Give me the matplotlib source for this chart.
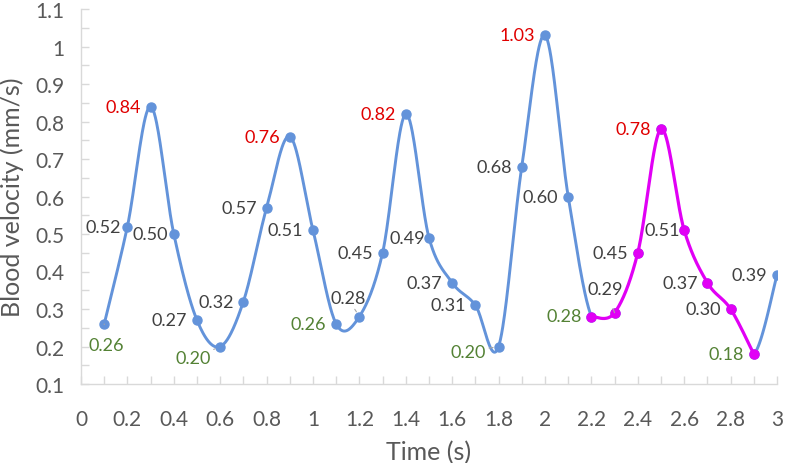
import matplotlib
matplotlib.use("Agg")
import matplotlib.pyplot as plt
import numpy as np

# data
time_s = [0.1, 0.2, 0.3, 0.4, 0.5, 0.6, 0.7, 0.8, 0.9, 1.0,
          1.1, 1.2, 1.3, 1.4, 1.5, 1.6, 1.7, 1.8, 1.9, 2.0,
          2.1, 2.2, 2.3, 2.4, 2.5, 2.6, 2.7, 2.8, 2.9, 3.0]
velocity = [0.26, 0.52, 0.84, 0.50, 0.27, 0.20, 0.32, 0.57, 0.76, 0.51,
            0.26, 0.28, 0.45, 0.82, 0.49, 0.37, 0.31, 0.20, 0.68, 1.03,
            0.60, 0.28, 0.29, 0.45, 0.78, 0.51, 0.37, 0.30, 0.18, 0.39]
# highlighted stretch (index range, inclusive)
hl_start, hl_end = 21, 28
peaks = [2, 8, 13, 19, 24]
troughs = [0, 5, 10, 17, 21, 28]

# label offsets in pixels (label centre relative to point), default left
default_off = (-27.5, 0)
label_off = {0: (2, -21), 1: (-24.5, 0), 3: (-24, 0), 5: (-27, -12),
             11: (-11.5, 18), 14: (-22, 0), 17: (-30, -5),
             22: (-9.5, 24), 25: (-21.5, 0)}
leaders = [0, 5, 11, 17, 22]

BLUE = "#6393DA"
MAGENTA = "#E100F5"
RED = "#E00000"
GREEN = "#548235"
GREY = "#404040"
AXC = "#595959"
N = 40


def smooth(x, y, n=N):
    pts = np.column_stack([x, y]).astype(float)
    out = []
    for i in range(len(pts) - 1):
        p0 = pts[i - 1] if i > 0 else pts[i]
        p1, p2 = pts[i], pts[i + 1]
        p3 = pts[i + 2] if i + 2 < len(pts) else pts[i + 1]
        c1 = p1 + (p2 - p0) / 6
        c2 = p2 - (p3 - p1) / 6
        t = np.linspace(0, 1, n)[:, None]
        seg = ((1 - t) ** 3 * p1 + 3 * (1 - t) ** 2 * t * c1
               + 3 * (1 - t) * t ** 2 * c2 + t ** 3 * p2)
        out.append(seg)
    s = np.vstack(out)
    return s[:, 0], s[:, 1]


plt.rcParams['font.family'] = ['Lato', 'DejaVu Sans']
fig = plt.figure(figsize=(7.85, 4.64), dpi=100)
ax = fig.add_axes([81 / 785, 1 - 385 / 464, (777 - 81) / 785, (385 - 10) / 464])

# blue line, with a gap where the highlighted stretch is drawn
bx, by = smooth(time_s, velocity)
cut1 = hl_start * N
cut2 = hl_end * N
ax.plot(bx[:cut1], by[:cut1], color=BLUE, lw=2.1, zorder=2, solid_capstyle='round')
ax.plot(bx[cut2:], by[cut2:], color=BLUE, lw=2.1, zorder=2, solid_capstyle='round')
ax.plot(time_s, velocity, 'o', color=BLUE, ms=6.5, zorder=3)

mx, my = smooth(time_s[hl_start:hl_end + 1], velocity[hl_start:hl_end + 1])
ax.plot(mx, my, color=MAGENTA, lw=2.3, zorder=4, solid_capstyle='round')
ax.plot(time_s[hl_start:hl_end + 1], velocity[hl_start:hl_end + 1], 'o',
        color=MAGENTA, ms=6.5, zorder=5)

for i, (x, v) in enumerate(zip(time_s, velocity)):
    col = RED if i in peaks else GREEN if i in troughs else GREY
    dx, dy = label_off.get(i, default_off)
    arrow = None
    if i in leaders:
        arrow = dict(arrowstyle='-', color='#A6A6A6', lw=0.8, shrinkA=7, shrinkB=4)
    ax.annotate(f"{v:.2f}", (x, v), xytext=(dx, dy), textcoords='offset pixels',
                ha='center', va='center', fontsize=13, color=col,
                arrowprops=arrow, zorder=6)

ax.set_xlim(0, 3)
ax.set_ylim(0.1, 1.1)
ax.set_xticks(np.arange(0, 3.01, 0.2))
ax.set_xticks(np.arange(0, 3.01, 0.1), minor=True)
ax.set_yticks(np.arange(0.1, 1.101, 0.1))
ax.set_yticks(np.arange(0.1, 1.101, 0.05), minor=True)
ax.set_xticklabels([f"{t:g}" for t in np.round(np.arange(0, 3.01, 0.2), 1)])
ax.set_yticklabels([f"{t:g}" for t in np.round(np.arange(0.1, 1.101, 0.1), 1)])

for s in ['top', 'right']:
    ax.spines[s].set_visible(False)
for s in ['left', 'bottom']:
    ax.spines[s].set_color('#D9D9D9')
    ax.spines[s].set_linewidth(1.0)
ax.tick_params(which='both', direction='in', color='#D9D9D9', width=1.0)
ax.tick_params(which='major', length=6, labelsize=15, labelcolor=AXC)
ax.tick_params(which='minor', length=6)
ax.tick_params(axis='x', which='major', pad=18)
ax.tick_params(axis='y', which='major', pad=12)

ax.set_xlabel("Time (s)", fontsize=18, color=AXC, labelpad=8)
ax.set_ylabel("Blood velocity (mm/s)", fontsize=18, color=AXC, labelpad=8)

fig.savefig("out.png", dpi=100)
